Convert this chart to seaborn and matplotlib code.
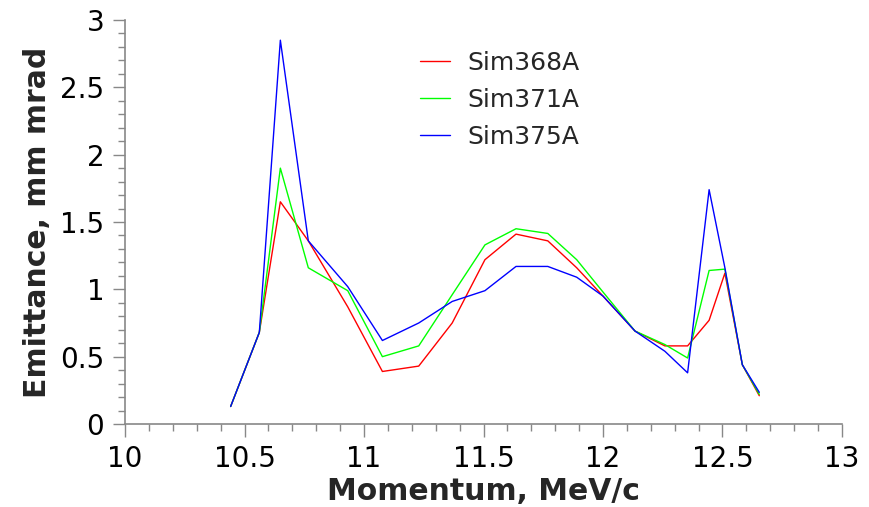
import matplotlib
matplotlib.use("Agg")
import matplotlib.pyplot as plt
from matplotlib.ticker import MultipleLocator
import pandas as pd
import seaborn as sns

# Momentum bins (MeV/c) and transverse emittance (mm mrad) for each simulation
momentum = [10.442, 10.562, 10.650, 10.767, 10.932, 11.077, 11.229, 11.369, 11.506,
            11.636, 11.769, 11.890, 12.000, 12.134, 12.259, 12.354, 12.444, 12.510,
            12.583, 12.654]
sim368a = [0.13, 0.68, 1.65, 1.36, 0.87, 0.39, 0.43, 0.75, 1.22, 1.41, 1.36, 1.16,
           0.95, 0.69, 0.58, 0.58, 0.77, 1.12, 0.44, 0.21]
sim371a = [0.13, 0.68, 1.90, 1.16, 0.99, 0.50, 0.58, 0.96, 1.33, 1.45, 1.415, 1.22,
           0.98, 0.69, 0.59, 0.49, 1.14, 1.15, 0.44, 0.22]
sim375a = [0.13, 0.68, 2.85, 1.36, 1.02, 0.62, 0.75, 0.91, 0.99, 1.17, 1.17, 1.09,
           0.95, 0.69, 0.54, 0.38, 1.74, 1.16, 0.44, 0.235]
series_names = ["Sim368A", "Sim371A", "Sim375A"]
x_ticks = [10, 10.5, 11, 11.5, 12, 12.5, 13]
x_tick_labels = ["10", "10.5", "11", "11.5", "12", "12.5", "13"]
y_ticks = [0, 0.5, 1, 1.5, 2, 2.5, 3]
y_tick_labels = ["0", "0.5", "1", "1.5", "2", "2.5", "3"]

frames = []
for name, vals in zip(series_names, [sim368a, sim371a, sim375a]):
    frames.append(pd.DataFrame({"Momentum": momentum, "Emittance": vals, "Run": name}))
df = pd.concat(frames, ignore_index=True)

sns.set_style("ticks")
plt.rcParams["font.family"] = ["DejaVu Sans"]

fig = plt.figure(figsize=(8.7, 5.07), dpi=100)
ax = fig.add_axes([125 / 870, 1 - 424 / 507, (842 - 125) / 870, (424 - 20) / 507])

palette = {"Sim368A": "#ff0000", "Sim371A": "#00ff00", "Sim375A": "#0000ff"}
sns.lineplot(data=df, x="Momentum", y="Emittance", hue="Run", palette=palette,
             linewidth=1.0, ax=ax, estimator=None, sort=False)

ax.set_xlim(10, 13)
ax.set_ylim(0, 3)
ax.set_xticks(x_ticks)
ax.set_xticklabels(x_tick_labels)
ax.set_yticks(y_ticks)
ax.set_yticklabels(y_tick_labels)
ax.xaxis.set_minor_locator(MultipleLocator(0.1))
ax.yaxis.set_minor_locator(MultipleLocator(0.1))

spine_col = "#888888"
for side in ["top", "right"]:
    ax.spines[side].set_visible(False)
for side in ["left", "bottom"]:
    ax.spines[side].set_color(spine_col)
    ax.spines[side].set_linewidth(1.2)
ax.tick_params(which="major", length=9, width=1.0, color=spine_col,
               labelsize=20, labelcolor="#000000", pad=6)
ax.tick_params(which="minor", length=5.3, width=1.0, color=spine_col)

ax.set_xlabel("Momentum, MeV/c", fontsize=21.5, fontweight="bold", labelpad=3)
ax.set_ylabel("Emittance, mm mrad", fontsize=21.5, fontweight="bold", labelpad=6)

handles, labels = ax.get_legend_handles_labels()
ax.legend(handles, labels, loc="upper left", frameon=False, fontsize=18,
          bbox_to_anchor=(420 / 870, 1 - 51 / 507), bbox_transform=fig.transFigure,
          borderpad=0, borderaxespad=0, handlelength=1.2, handletextpad=0.7,
          labelspacing=0.52)

fig.savefig("out.png", dpi=100)
